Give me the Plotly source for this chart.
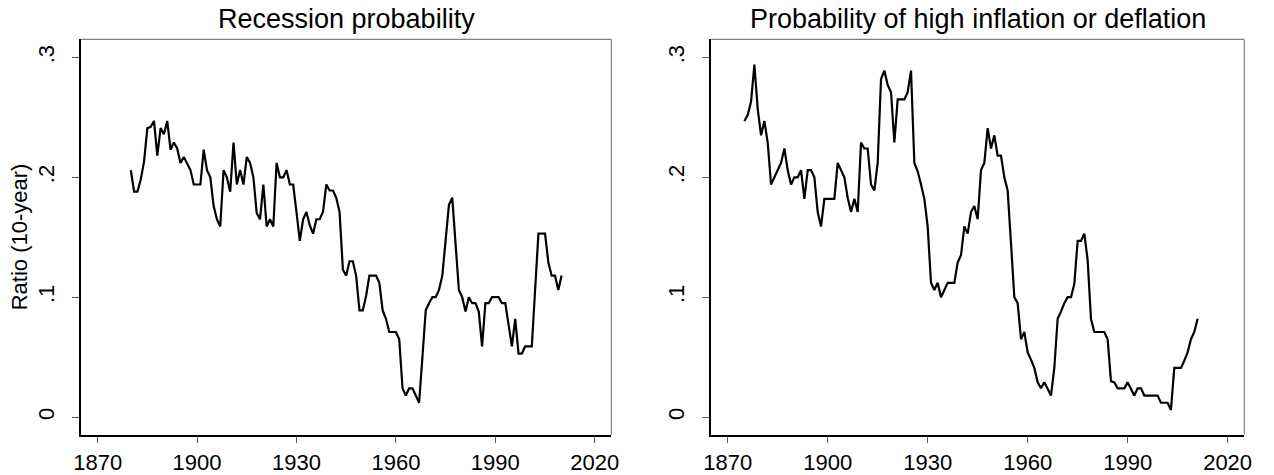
import plotly.graph_objects as go

years_recession = list(range(1880, 2011))
recession_prob = [
    0.206, 0.188, 0.188, 0.198, 0.213, 0.241, 0.242, 0.247, 0.218, 0.241,
    0.236, 0.247, 0.223, 0.229, 0.224, 0.212, 0.217, 0.211, 0.206, 0.194,
    0.194, 0.194, 0.223, 0.206, 0.200, 0.176, 0.165, 0.159, 0.206, 0.200,
    0.188, 0.229, 0.194, 0.206, 0.194, 0.217, 0.212, 0.200, 0.170, 0.165,
    0.194, 0.159, 0.165, 0.159, 0.212, 0.200, 0.200, 0.206, 0.194, 0.194,
    0.171, 0.147, 0.165, 0.171, 0.160, 0.153, 0.165, 0.165, 0.171, 0.194,
    0.189, 0.189, 0.183, 0.171, 0.123, 0.118, 0.130, 0.130, 0.118, 0.089,
    0.089, 0.101, 0.118, 0.118, 0.118, 0.112, 0.089, 0.082, 0.071, 0.071,
    0.071, 0.065, 0.024, 0.018, 0.024, 0.024, 0.018, 0.012, 0.050, 0.089,
    0.095, 0.100, 0.100, 0.106, 0.118, 0.148, 0.177, 0.183, 0.145, 0.106,
    0.100, 0.088, 0.100, 0.095, 0.095, 0.088, 0.059, 0.095, 0.095, 0.100,
    0.100, 0.100, 0.095, 0.095, 0.077, 0.059, 0.082, 0.053, 0.053, 0.059,
    0.059, 0.059, 0.106, 0.153, 0.153, 0.153, 0.129, 0.118, 0.118, 0.106,
    0.118,
]

years_inflation = list(range(1875, 2012))
inflation_prob = [
    0.247, 0.252, 0.263, 0.294, 0.257, 0.235, 0.247, 0.229, 0.194, 0.200,
    0.206, 0.212, 0.224, 0.206, 0.194, 0.200, 0.200, 0.206, 0.182, 0.206,
    0.206, 0.200, 0.171, 0.159, 0.182, 0.182, 0.182, 0.182, 0.212, 0.206,
    0.200, 0.183, 0.171, 0.182, 0.171, 0.229, 0.224, 0.224, 0.194, 0.189,
    0.212, 0.282, 0.289, 0.277, 0.271, 0.229, 0.265, 0.265, 0.265, 0.271,
    0.289, 0.212, 0.205, 0.194, 0.182, 0.159, 0.112, 0.106, 0.112, 0.100,
    0.106, 0.112, 0.112, 0.112, 0.129, 0.135, 0.159, 0.153, 0.171, 0.176,
    0.165, 0.206, 0.212, 0.241, 0.224, 0.235, 0.218, 0.218, 0.200, 0.189,
    0.145, 0.100, 0.095, 0.065, 0.071, 0.054, 0.048, 0.041, 0.029, 0.024,
    0.029, 0.024, 0.018, 0.041, 0.082, 0.088, 0.095, 0.100, 0.100, 0.111,
    0.147, 0.147, 0.153, 0.131, 0.082, 0.071, 0.071, 0.071, 0.071, 0.065,
    0.030, 0.029, 0.024, 0.024, 0.024, 0.029, 0.024, 0.018, 0.024, 0.024,
    0.018, 0.018, 0.018, 0.018, 0.018, 0.012, 0.012, 0.012, 0.006, 0.041,
    0.041, 0.041, 0.047, 0.054, 0.065, 0.071, 0.082,
]

x_tick_vals = [1870, 1900, 1930, 1960, 1990, 2020]
y_tick_vals = [0, 0.1, 0.2, 0.3]
y_tick_text = ["0", ".1", ".2", ".3"]

titles = ["Recession probability", "Probability of high inflation or deflation"]
y_title = "Ratio (10-year)"

FONT = "Liberation Sans, Arial, sans-serif"

fig = go.Figure()
fig.add_trace(go.Scatter(x=years_recession, y=recession_prob, mode="lines",
                         line=dict(color="black", width=2.2), xaxis="x", yaxis="y",
                         showlegend=False, hoverinfo="x+y"))
fig.add_trace(go.Scatter(x=years_inflation, y=inflation_prob, mode="lines",
                         line=dict(color="black", width=2.2), xaxis="x2", yaxis="y2",
                         showlegend=False, hoverinfo="x+y"))

xdoms = [[74 / 1274, 611 / 1274], [712 / 1274, 1252 / 1274]]
ydom = [1 - 441 / 475, 1 - 40 / 475]

xax = dict(range=[1865, 2025], tickmode="array", tickvals=x_tick_vals,
           ticks="outside", ticklen=7, tickwidth=1, tickcolor="#555555",
           showline=True, linecolor="black", linewidth=1.5, mirror=False,
           showgrid=False, zeroline=False, fixedrange=True,
           tickfont=dict(family=FONT, size=22, color="black"))
yax = dict(range=[-0.0145, 0.315], tickmode="array", tickvals=y_tick_vals,
           ticktext=y_tick_text, tickangle=-90,
           ticks="outside", ticklen=7, tickwidth=1, tickcolor="#555555",
           ticklabelstandoff=10,
           showline=True, linecolor="black", linewidth=1.5, mirror=False,
           showgrid=False, zeroline=False, fixedrange=True,
           tickfont=dict(family=FONT, size=22, color="black"))

fig.update_layout(
    width=1274, height=475,
    margin=dict(l=0, r=0, t=0, b=0),
    paper_bgcolor="white", plot_bgcolor="white",
    font=dict(family=FONT, color="black"),
    xaxis=dict(xax, domain=xdoms[0], anchor="y"),
    yaxis=dict(yax, domain=ydom, anchor="x",
               title=dict(text=y_title, font=dict(family=FONT, size=22), standoff=0)),
    xaxis2=dict(xax, domain=xdoms[1], anchor="y2"),
    yaxis2=dict(yax, domain=ydom, anchor="x2"),
)

shapes = []
for xr, yr in (("x domain", "y domain"), ("x2 domain", "y2 domain")):
    shapes.append(dict(type="line", xref=xr, yref=yr, x0=0, x1=1, y0=1, y1=1,
                       line=dict(color="#7f7f7f", width=1.2), layer="below"))
    shapes.append(dict(type="line", xref=xr, yref=yr, x0=1, x1=1, y0=0, y1=1,
                       line=dict(color="#7f7f7f", width=1.2), layer="below"))
fig.update_layout(shapes=shapes)

for i, (xr, yr) in enumerate((("x domain", "y domain"), ("x2 domain", "y2 domain"))):
    fig.add_annotation(text=titles[i], xref=xr, yref=yr, x=0.5, y=1,
                       xanchor="center", yanchor="bottom", yshift=3,
                       showarrow=False, font=dict(family=FONT, size=27, color="black"))

fig.write_html("out.html",
               config={"displayModeBar": False},
               post_script="document.body.style.margin='0';document.body.style.overflow='hidden';")
